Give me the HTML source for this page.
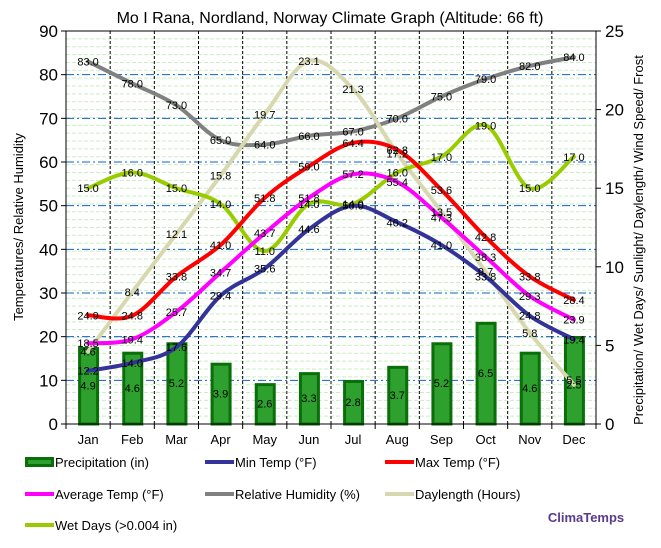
<!DOCTYPE html>
<html><head><meta charset="utf-8"><style>
body{margin:0;background:#fff;width:661px;height:543px;overflow:hidden;font-family:"Liberation Sans",sans-serif}
</style></head><body>
<svg id="s" width="661" height="543" xmlns="http://www.w3.org/2000/svg" font-family="Liberation Sans, sans-serif"></svg>
<script>
const L=66,R=596,T=31,B=424,W=R-L,H=B-T;
const yl=v=>B-v*H/90, yr=v=>B-v*H/25, xm=i=>L+W/12*(i+0.5);
let s='';
for(let v=0.5;v<25;v+=0.5){let y=yr(v);s+=`<line x1="${L}" x2="${R}" y1="${y}" y2="${y}" stroke="#c8f0c0" stroke-dasharray="4,2" stroke-width="1"/>`;}
for(let v=10;v<90;v+=10){let y=yl(v);s+=`<line x1="${L}" x2="${R}" y1="${y}" y2="${y}" stroke="#1060d0" stroke-dasharray="8,3,2,3" stroke-width="1"/>`;}
for(let i=1;i<12;i++){let x=L+W/12*i;s+=`<line x1="${x}" x2="${x}" y1="${T}" y2="${B}" stroke="#000" stroke-dasharray="3,2" stroke-width="1"/>`;}
const months=['Jan','Feb','Mar','Apr','May','Jun','Jul','Aug','Sep','Oct','Nov','Dec'];
const pr=[4.9,4.6,5.2,3.9,2.6,3.3,2.8,3.7,5.2,6.5,4.6,5.6];
const prl=['4.9','4.6','5.2','3.9','2.6','3.3','2.8','3.7','5.2','6.5','4.6','5.5'];
pr.forEach((v,i)=>{let x=xm(i)-10,y=yr(v);s+=`<rect x="${x+1.5}" y="${y+1.5}" width="18" height="${B-y-1.5}" fill="#2ea02e" stroke="#0a6e0a" stroke-width="3"/>`;});
function path(d,f,c){let p=d.map((v,i)=>[xm(i),f(v)]);let o=`M${p[0][0]},${p[0][1]}`;
for(let i=0;i<p.length-1;i++){let p0=p[Math.max(i-1,0)],p1=p[i],p2=p[i+1],p3=p[Math.min(i+2,p.length-1)];
o+=` C${p1[0]+(p2[0]-p0[0])/6},${p1[1]+(p2[1]-p0[1])/6} ${p2[0]-(p3[0]-p1[0])/6},${p2[1]-(p3[1]-p1[1])/6} ${p2[0]},${p2[1]}`;}
return `<path d="${o}" fill="none" stroke="${c}" stroke-width="4" stroke-linecap="round"/>`;}
const series=[
[[83,78,73,65,64,66,67,70,75,79,82,84],yl,'#808080'],
[[4.6,8.4,12.1,15.8,19.7,23.1,21.3,17.2,13.5,9.7,5.8,2.5],yr,'#d8d8b0'],
[[15,16,15,14,11,14,14,16,17,19,15,17],yr,'#99cc00'],
[[12.2,14.0,17.6,29.4,35.6,44.6,50.0,46.2,41.0,33.8,24.8,19.4],yl,'#333399'],
[[18.5,19.4,25.7,34.7,43.7,51.8,57.2,55.4,47.3,38.3,29.3,23.9],yl,'#ff00ff'],
[[24.9,24.8,33.8,41.0,51.8,59.0,64.4,62.8,53.6,42.8,33.8,28.4],yl,'#ff0000']];
series.forEach(a=>s+=path(...a));
let lab='';
series.forEach(([d,f])=>d.forEach((v,i)=>{lab+=`<text x="${xm(i)}" y="${f(v)+4}">${v.toFixed(1)}</text>`}));
pr.forEach((v,i)=>{lab+=`<text x="${xm(i)}" y="${(yr(v)+B)/2+4}">${prl[i]}</text>`});
s+=`<g font-size="11" text-anchor="middle" fill="#000">${lab}</g>`;
s+=`<rect x="${L}" y="${T}" width="${W}" height="${H}" fill="none" stroke="#000" stroke-width="1"/>`;
let ax='';
for(let v=0;v<=90;v+=10){ax+=`<line x1="${L-5}" x2="${L}" y1="${yl(v)}" y2="${yl(v)}" stroke="#000"/><text x="${L-8}" y="${yl(v)+6}" text-anchor="end" font-size="17">${v}</text>`;}
for(let v=0;v<=25;v+=5){ax+=`<line x1="${R}" x2="${R+5}" y1="${yr(v)}" y2="${yr(v)}" stroke="#000"/><text x="${R+9}" y="${yr(v)+6}" font-size="17">${v}</text>`;}
for(let i=0;i<=12;i++){let x=L+W/12*i;ax+=`<line x1="${x}" x2="${x}" y1="${B}" y2="${B+5}" stroke="#000"/>`;}
months.forEach((m,i)=>ax+=`<text x="${xm(i)}" y="${444}" text-anchor="middle" font-size="13">${m}</text>`);
ax+=`<text x="330" y="23" text-anchor="middle" font-size="16">Mo I Rana, Nordland, Norway Climate Graph (Altitude: 66 ft)</text>`;
ax+=`<text transform="translate(23,227) rotate(-90)" text-anchor="middle" font-size="13">Temperatures/ Relative Humidity</text>`;
ax+=`<text transform="translate(643,240) rotate(-90)" text-anchor="middle" font-size="13">Precipitation/ Wet Days/ Sunlight/ Daylength/ Wind Speed/ Frost</text>`;
const leg=[['Precipitation (in)','bar',25,462],['Min Temp (°F)','#333399',205,462],['Max Temp (°F)','#ff0000',385,462],
['Average Temp (°F)','#ff00ff',25,494],['Relative Humidity (%)','#808080',205,494],['Daylength (Hours)','#d8d8b0',385,494],
['Wet Days (>0.004 in)','#99cc00',25,525]];
leg.forEach(([t,c,x,y])=>{
 if(c=='bar')ax+=`<rect x="${x+1.5}" y="${y-3.5}" width="26" height="7" fill="#2ea02e" stroke="#0a6e0a" stroke-width="3"/>`;
 else ax+=`<line x1="${x}" x2="${x+29}" y1="${y}" y2="${y}" stroke="${c}" stroke-width="4"/>`;
 ax+=`<text x="${x+30}" y="${y+5}" font-size="13">${t.replace('>','&gt;')}</text>`;});
ax+=`<text x="586" y="522" text-anchor="middle" font-size="13" font-weight="bold" fill="#5a3a8a">ClimaTemps</text>`;
s+=ax;
document.getElementById('s').innerHTML=s;
</script>
</body></html>
